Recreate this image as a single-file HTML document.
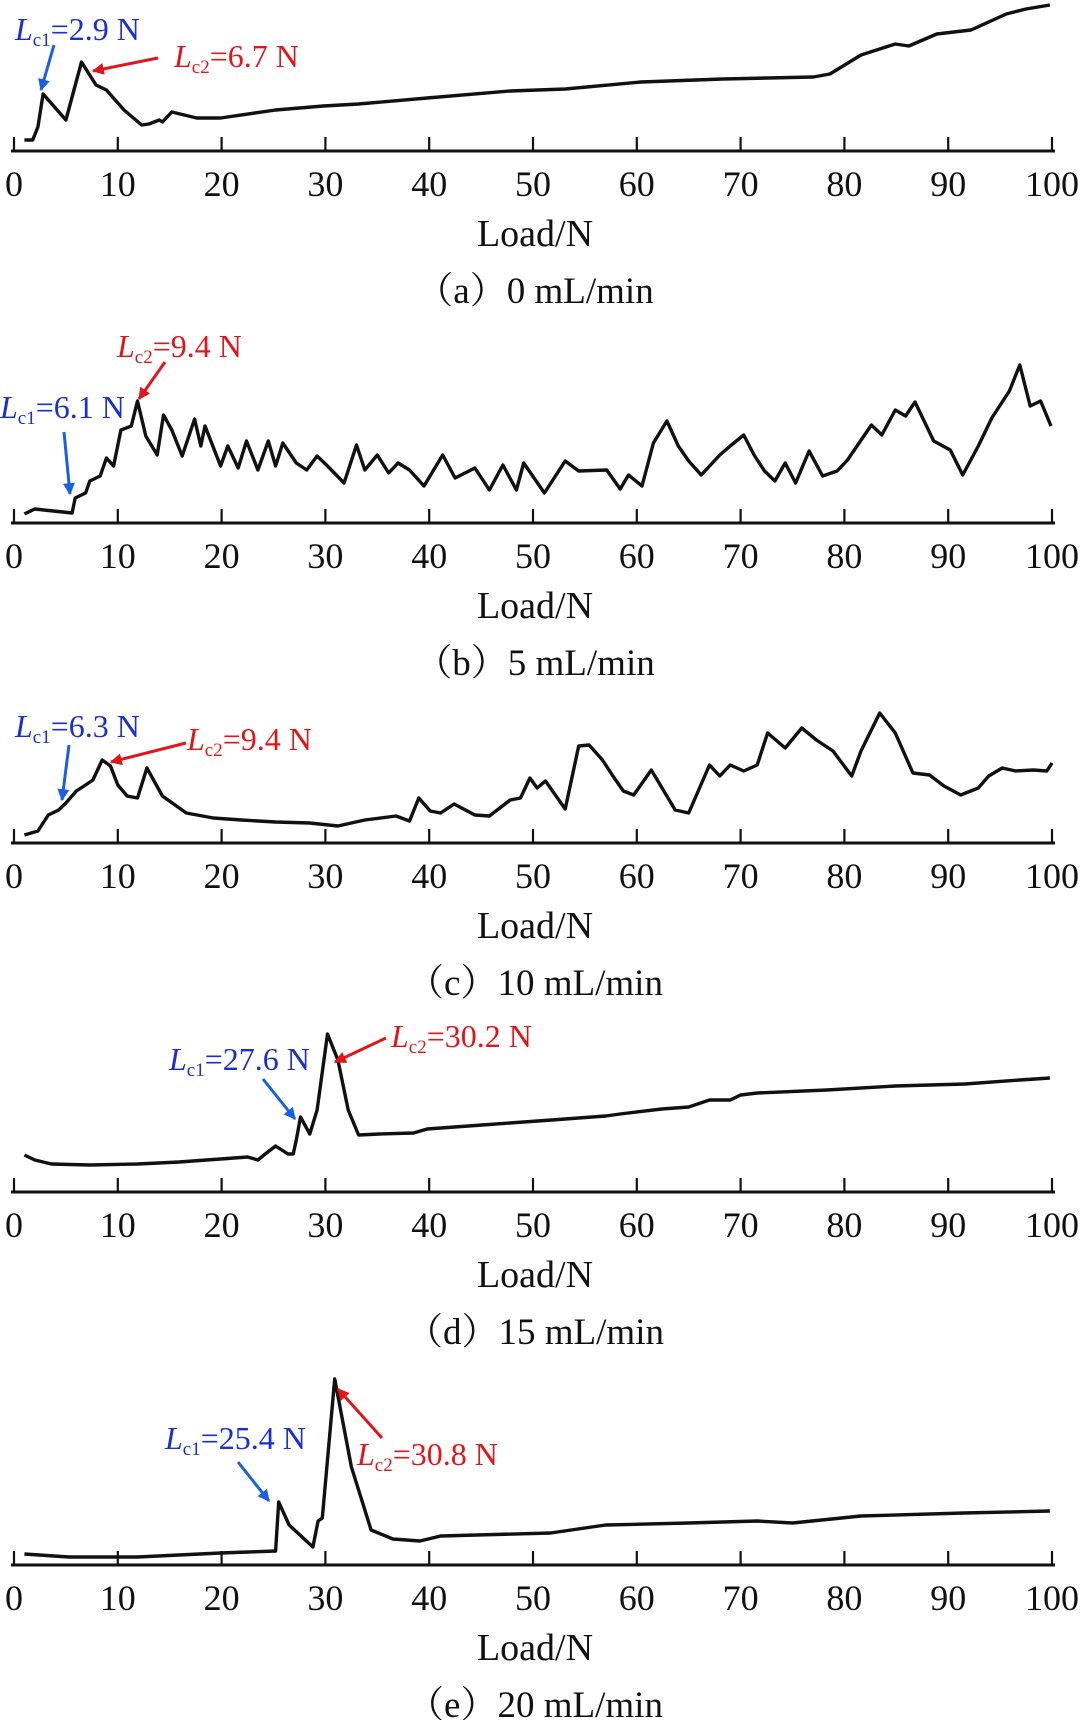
<!DOCTYPE html>
<html><head><meta charset="utf-8"><style>
html,body{margin:0;padding:0;background:#fff;}
svg{display:block;}
text{font-family:"Liberation Serif","Noto Serif CJK SC",serif;}
</style></head><body>
<svg id="chart" width="1080" height="1720" viewBox="0 0 1080 1720" xmlns="http://www.w3.org/2000/svg">
<defs>
<marker id="ab" viewBox="0 0 10 10" refX="9" refY="5" markerWidth="4" markerHeight="4" orient="auto"><path d="M0,0 L10,5 L0,10 z" fill="#1a5fe0"/></marker>
<marker id="ar" viewBox="0 0 10 10" refX="9" refY="5" markerWidth="4" markerHeight="4" orient="auto"><path d="M0,0 L10,5 L0,10 z" fill="#e0161b"/></marker>
</defs>
</svg>
<script>
// x-axis tick labels
const xTicks = [0,10,20,30,40,50,60,70,80,90,100];
// Loads (N) and friction signal (a.u.) per panel
const loadA = [1.0,1.8,2.3,2.8,5.0,6.5,7.9,8.9,10.6,12.3,13.0,14.0,14.3,15.2,17.6,19.9,25.2,29.8,33.2,39.8,47.8,53.1,60.4,68.3,77.0,78.6,81.6,84.9,86.2,88.9,92.2,95.6,97.5,99.8];
const sigA  = [11,11,24,57,31,89,66,61,41,26,27,31,29,39,33,33,41,45,47,53,60,62,69,72,74,77,96,107,105,117,121,137,142,146];
const loadB = [1.0,2.0,5.6,5.9,6.9,7.3,8.3,8.9,9.6,10.3,11.3,11.9,12.7,13.8,14.4,15.2,16.2,17.4,18.0,18.4,19.9,20.6,21.6,22.4,23.5,24.5,25.2,25.9,27.2,28.2,29.2,30.2,31.8,33.0,33.8,35.0,36.1,37.0,38.1,39.5,41.3,42.5,44.4,45.8,47.1,48.4,49.1,51.1,53.1,54.4,57.1,58.4,59.2,60.5,61.6,62.9,64.0,65.0,66.2,68.0,69.0,70.3,71.3,72.3,73.3,74.3,75.3,76.6,77.9,79.3,80.3,82.6,83.6,84.9,85.9,86.8,88.6,90.2,91.4,92.9,94.2,95.9,96.9,97.9,98.9,99.9];
const sigB  = [9,14,10,25,30,42,47,65,57,93,97,122,87,68,108,93,67,104,77,97,57,77,55,82,53,82,57,80,60,53,67,57,40,78,53,68,50,60,53,37,68,45,55,33,58,33,60,30,62,52,53,34,48,37,80,102,77,62,48,68,77,88,68,52,42,60,40,72,47,52,63,98,88,113,107,121,82,73,48,77,105,132,158,117,122,97];
const loadC = [1.0,2.3,3.3,4.3,5.0,6.0,6.9,7.6,8.5,9.3,10.0,10.9,11.9,12.8,14.3,16.6,19.2,21.9,25.2,28.5,31.2,33.8,36.8,38.1,39.0,40.1,41.1,42.4,44.4,45.8,47.8,48.8,49.7,50.4,51.2,53.1,54.4,55.4,56.7,57.7,58.7,59.7,61.4,63.7,65.0,67.0,68.0,69.0,70.3,71.6,72.6,74.3,75.9,77.3,78.9,80.7,81.6,83.4,84.9,86.6,88.2,89.6,91.2,92.9,93.9,95.2,96.5,98.2,99.5,100];
const sigC  = [8,12,28,33,40,52,58,63,83,77,58,47,45,75,47,30,25,23,21,20,17,23,27,22,45,32,30,39,28,27,43,45,65,55,62,34,97,98,83,67,52,48,73,33,30,78,67,78,72,78,110,95,115,103,92,67,92,130,110,70,68,57,48,55,67,75,72,73,72,80];
const loadD = [1.0,2.0,3.6,7.3,11.9,15.9,19.9,22.5,23.5,24.2,25.2,26.4,26.9,27.2,27.6,28.5,29.2,30.2,31.2,32.2,33.2,35.2,38.5,39.8,45.1,51.8,57.0,58.4,62.4,65.0,67.0,69.0,70.0,71.6,78.3,84.9,91.6,96.9,99.8];
const sigD  = [37,32,28,27,28,30,33,35,32,38,46,38,38,52,75,58,82,158,132,82,57,58,59,63,67,72,76,78,83,85,92,92,97,99,102,106,108,112,114];
const loadE = [1.0,5.3,11.9,19.9,25.2,25.5,26.5,28.8,29.3,29.7,30.9,32.5,34.4,36.5,39.1,41.1,51.7,57.0,65.0,71.6,75.0,81.6,91.5,99.8];
const sigE  = [11,8,8,12,14,63,40,18,44,47,186,98,35,26,24,29,32,40,42,44,42,49,52,54];

const svg = document.getElementById('chart');
const NS = 'http://www.w3.org/2000/svg';
const X0 = 14, X1 = 1052;
function xScale(v){ return X0 + (v/100)*(X1-X0); }
function mk(tag, attrs){ const e=document.createElementNS(NS,tag); for(const k in attrs) e.setAttribute(k,attrs[k]); return e; }

const panels = [
 {id:'a', axisY:151, loads:loadA, sig:sigA, cap:'0 mL/min',
  l1:{x:15,y:40,t:'2.9 N'}, a1:[54,45,41,90], l2:{x:174,y:67,t:'6.7 N'}, a2:[158,58,93,71]},
 {id:'b', axisY:523, loads:loadB, sig:sigB, cap:'5 mL/min',
  l1:{x:0,y:418,t:'6.1 N'}, a1:[64,432,70,494], l2:{x:117,y:357,t:'9.4 N'}, a2:[165,362,139,399]},
 {id:'c', axisY:843, loads:loadC, sig:sigC, cap:'10 mL/min',
  l1:{x:15,y:737,t:'6.3 N'}, a1:[69,745,62,800], l2:{x:187,y:750,t:'9.4 N'}, a2:[186,743,111,762]},
 {id:'d', axisY:1192, loads:loadD, sig:sigD, cap:'15 mL/min',
  l1:{x:169,y:1070,t:'27.6 N'}, a1:[263,1079,295,1119], l2:{x:391,y:1047,t:'30.2 N'}, a2:[386,1038,335,1062]},
 {id:'e', axisY:1565, loads:loadE, sig:sigE, cap:'20 mL/min',
  l1:{x:165,y:1449,t:'25.4 N'}, a1:[238,1462,269,1501], l2:{x:357,y:1465,t:'30.8 N'}, a2:[382,1438,338,1389]}
];

panels.forEach(p=>{
  const g = mk('g',{});
  
  
  svg.appendChild(g);
  const yScale = v => p.axisY - v;
  let d='';
  p.loads.forEach((l,i)=>{ d += (i?'L':'M') + xScale(l).toFixed(1)+','+yScale(p.sig[i]).toFixed(1); });
  const path = mk('path',{d:d,fill:'none',stroke:'#111','stroke-width':3.4,'stroke-linejoin':'round'});
  
  
  g.appendChild(path);
  const ax = mk('line',{x1:11,x2:1055,y1:p.axisY,y2:p.axisY,stroke:'#111','stroke-width':3});
  
  
  g.appendChild(ax);
  xTicks.forEach(t=>{
    const tk = mk('line',{x1:xScale(t),x2:xScale(t),y1:p.axisY,y2:p.axisY-14,stroke:'#111','stroke-width':2.2});
    
    
    g.appendChild(tk);
    const tl = mk('text',{x:xScale(t),y:p.axisY+45,'text-anchor':'middle','font-size':36,fill:'#111'});
    tl.textContent = t;
    
    
    g.appendChild(tl);
  });
  const at = mk('text',{x:535,y:p.axisY+95,'text-anchor':'middle','font-size':38,fill:'#111'});
  at.textContent = 'Load/N';
  
  
  g.appendChild(at);
  const cp = mk('text',{x:535,y:p.axisY+152,'text-anchor':'middle','font-size':37,fill:'#111'});
  cp.textContent = '（'+p.id+'）'+p.cap;
  
  
  g.appendChild(cp);
  [[p.l1,p.a1,'1','#1a2fd0','#1a5fe0','ab'],[p.l2,p.a2,'2','#e0161b','#e0161b','ar']].forEach(([lb,ar,n,tc,acol,mid])=>{
    const tx = mk('text',{x:lb.x,y:lb.y,'font-size':32,fill:tc});
    tx.innerHTML = '<tspan font-style="italic">L</tspan><tspan font-size="19" dy="6">c'+n+'</tspan><tspan dy="-6">='+lb.t+'</tspan>';
    
    
    g.appendChild(tx);
    const aw = mk('line',{x1:ar[0],y1:ar[1],x2:ar[2],y2:ar[3],stroke:acol,'stroke-width':3,'marker-end':'url(#'+mid+')'});
    
    
    g.appendChild(aw);
  });
});
</script>
</body></html>
